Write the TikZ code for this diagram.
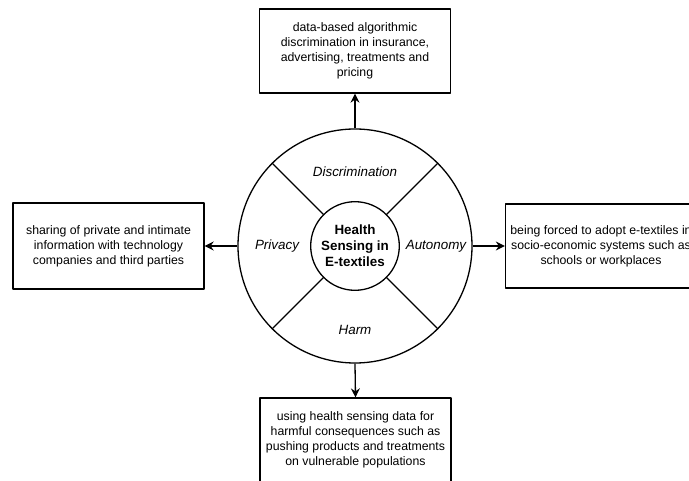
\documentclass[tikz,border=0pt]{standalone}
\usepackage{fontspec}
\setmainfont{Liberation Sans}
\usetikzlibrary{arrows.meta}
\tikzset{>={Stealth[length=9pt,width=9pt,inset=3pt]}}

\begin{document}
\begin{tikzpicture}[x=1pt, y=1pt, line width=1.3pt, line join=round,
    effect/.style={draw, minimum width=191pt, minimum height=84pt, align=center,
      font=\fontsize{12.3}{15}\selectfont},
    aspect/.style={font=\fontsize{13.4}{16}\selectfont\itshape}]
    \useasboundingbox (0,0) rectangle (689,480);
    \clip (0,0) rectangle (689,480);
    % ring and hub
    \node[draw, circle, minimum size=234pt] (ring) at (355,234) {};
    \node[draw, circle, minimum size=87pt, align=center,
      font=\fontsize{13.4}{16}\selectfont\bfseries] (hub) at (355,234) {Health\\Sensing in\\E-textiles};
    \foreach \a in {45,135,225,315}
      \draw (hub.\a) -- (ring.\a);
    \node[aspect] (discr) at (355,308) {Discrimination};
    \node[aspect] (priv) at (277,234) {Privacy};
    \node[aspect] (auto) at (436,234) {Autonomy};
    \node[aspect] (harm) at (355,150) {Harm};

    % effect boxes
    \node[effect] (top) at (355,429) {data-based algorithmic\\discrimination in insurance,\\advertising, treatments and\\pricing};
    \node[effect, minimum height=86pt] (left) at (108.5,234) {sharing of private and intimate\\information with technology\\companies and third parties};
    \node[effect] (right) at (601,234) {being forced to adopt e-textiles in\\socio-economic systems such as\\schools or workplaces};
    \node[effect] (bottom) at (355.5,40) {using health sensing data for\\harmful consequences such as\\pushing products and treatments\\on vulnerable populations};

    \draw[->] (ring.north) -- (top.south);
    \draw[->] (ring.west) -- (left.east);
    \draw[->] (ring.east) -- (right.west);
    \draw[->] (ring.south) -- (bottom.north);
\end{tikzpicture}
\end{document}
